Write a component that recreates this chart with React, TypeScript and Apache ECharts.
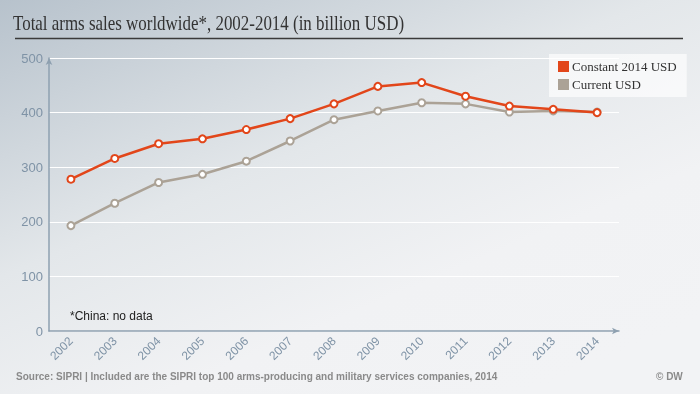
import React, { useEffect, useRef } from "react";
import * as echarts from "echarts";

const years = ["2002","2003","2004","2005","2006","2007","2008","2009","2010","2011","2012","2013","2014"];
const constantUSD = [278, 316, 343, 352, 369, 389, 416, 448, 455, 430, 412, 406, 400];
const currentUSD = [193, 234, 272, 287, 311, 348, 387, 403, 418, 416, 401, 403, 401];
const yTicks = [0, 100, 200, 300, 400, 500];
const seriesNames = ["Constant 2014 USD", "Current USD"];

const ORANGE = "#e2461a";
const GRAY = "#aba296";
const AXIS = "#8ea0b0";
const LABEL = "#7f93a6";

export default function App() {
  const ref = useRef<HTMLDivElement>(null);
  useEffect(() => {
    if (!ref.current) return;
    const chart = echarts.init(ref.current, null, { renderer: "svg" });
    chart.setOption({
      animation: false,
      graphic: [
        {
          type: "rect",
          z: -100,
          silent: true,
          shape: { x: 0, y: 0, width: 700, height: 394 },
          style: {
            fill: new echarts.graphic.LinearGradient(0, 0, 0.75, 1, [
              { offset: 0, color: "#b7c2cc" },
              { offset: 0.45, color: "#e3e7ea" },
              { offset: 0.75, color: "#f1f2f4" },
              { offset: 1, color: "#f2f3f5" },
            ]),
          },
        },
        {
          type: "text",
          x: 13,
          y: 12,
          scaleX: 0.77,
          style: {
            text: "Total arms sales worldwide*, 2002-2014 (in billion USD)",
            font: "22px 'Liberation Serif', serif",
            fill: "#333",
            textVerticalAlign: "top",
          },
        },
        {
          type: "line",
          shape: { x1: 15, y1: 38.5, x2: 683, y2: 38.5 },
          style: { stroke: "#3a3a3a", lineWidth: 1.5 },
        },
        {
          type: "text",
          left: 70,
          top: 310,
          style: {
            text: "*China: no data",
            font: "12px 'Liberation Sans', Arial, sans-serif",
            fill: "#222",
          },
        },
        {
          type: "text",
          left: 16,
          top: 371,
          style: {
            text: "Source: SIPRI | Included are the SIPRI top 100 arms-producing and military services companies, 2014",
            font: "bold 10px 'Liberation Sans', Arial, sans-serif",
            fill: "#8a8a8a",
          },
        },
        {
          type: "text",
          left: 656,
          top: 371,
          style: {
            text: "© DW",
            font: "bold 10px 'Liberation Sans', Arial, sans-serif",
            fill: "#8a8a8a",
          },
        },
      ],
      legend: {
        orient: "vertical",
        left: 549,
        top: 54,
        padding: [6, 10, 6, 9],
        itemGap: 5,
        itemWidth: 9,
        itemHeight: 9,
        icon: "rect",
        backgroundColor: "rgba(255,255,255,0.65)",
        textStyle: {
          fontFamily: "'Liberation Serif', serif",
          fontSize: 13,
          color: "#333",
          padding: [0, 0, 0, -1],
        },
        data: [
          { name: seriesNames[0], itemStyle: { color: ORANGE } },
          { name: seriesNames[1], itemStyle: { color: GRAY } },
        ],
      },
      grid: { left: 49, right: 81, top: 58, bottom: 63 },
      xAxis: {
        type: "category",
        data: years,
        boundaryGap: true,
        axisLine: {
          lineStyle: { color: AXIS, width: 1.5 },
          symbol: ["none", "arrow"],
          symbolSize: [5, 7],
        },
        axisTick: { show: false },
        axisLabel: {
          rotate: 45,
          color: LABEL,
          fontFamily: "'Liberation Sans', Arial, sans-serif",
          fontSize: 12,
          margin: 8,
        },
        splitLine: { show: false },
      },
      yAxis: {
        type: "value",
        min: yTicks[0],
        max: yTicks[yTicks.length - 1],
        interval: 100,
        axisLine: {
          show: true,
          lineStyle: { color: AXIS, width: 1.5 },
          symbol: ["none", "arrow"],
          symbolSize: [5, 7],
        },
        axisTick: { show: false },
        axisLabel: {
          color: LABEL,
          fontFamily: "'Liberation Sans', Arial, sans-serif",
          fontSize: 13,
          margin: 6,
        },
        splitLine: { lineStyle: { color: "#ffffff", width: 1 } },
      },
      series: [
        {
          name: seriesNames[1],
          type: "line",
          data: currentUSD,
          z: 2,
          lineStyle: { color: GRAY, width: 2.5 },
          itemStyle: { color: "#ffffff", borderColor: GRAY, borderWidth: 2 },
          symbol: "circle",
          symbolSize: 7,
        },
        {
          name: seriesNames[0],
          type: "line",
          data: constantUSD,
          z: 3,
          lineStyle: { color: ORANGE, width: 2.5 },
          itemStyle: { color: "#ffffff", borderColor: ORANGE, borderWidth: 2 },
          symbol: "circle",
          symbolSize: 7,
        },
      ],
    });
    return () => chart.dispose();
  }, []);
  return (
    <div
      ref={ref}
      style={{ position: "fixed", left: 0, top: 0, width: 700, height: 394 }}
    />
  );
}
